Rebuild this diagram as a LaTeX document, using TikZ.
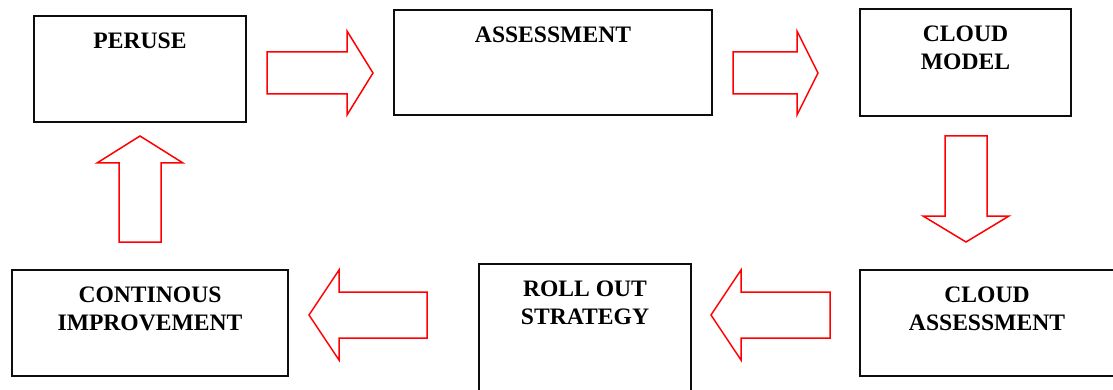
\documentclass[tikz,border=0pt]{standalone}
\usepackage{fontspec}
\setmainfont{Liberation Serif}
\usetikzlibrary{calc, positioning}
\definecolor{BoxBlack}{rgb}{0.05,0.05,0.05}
\definecolor{ArrowRed}{rgb}{1,0,0}

\begin{document}
\begin{tikzpicture}[x = 1pt, y = -1pt]%
    %
    \tikzstyle{box} = [rectangle, draw = BoxBlack, line width = 2pt, inner sep = 0pt]%
    \tikzstyle{boxtext} = [anchor = north, inner sep = 0pt, align = center, font = \fontsize{23.6}{28}\selectfont\bfseries]%
    \tikzstyle{blockarrow} = [draw = ArrowRed, line width = 1.5pt, fill = white, line join = miter]%
    %
    \def\blockarrow(#1)(#2)(#3:#4:#5){% Syntax: (tail)(tip)(shaft half width:head half width:head length)
        \coordinate (hb) at ($(#2)!#5!(#1)$);%
        \draw [blockarrow] ($(#1)!#3!90:(#2)$) -- ($(hb)!#3!90:(#2)$) -- ($(hb)!#4!90:(#2)$) -- (#2)%
            -- ($(hb)!#4!-90:(#2)$) -- ($(hb)!#3!-90:(#2)$) -- ($(#1)!#3!-90:(#2)$) -- cycle;%
    }%
    %
    \useasboundingbox (0, 0) rectangle (1113, 390);%
    %
    % boxes
    \node [box, minimum width = 212pt, minimum height = 106pt] (peruse) at (140, 69) {};%
    \node [box, minimum width = 318pt, minimum height = 105pt] (assess) at (553, 62.5) {};%
    \node [box, minimum width = 211pt, minimum height = 107pt] (cmodel) at (965.5, 62.5) {};%
    \node [box, minimum width = 254pt, minimum height = 106pt] (cassess) at (987, 323) {};%
    \node [box, minimum width = 212pt, minimum height = 150pt] (rollout) at (585, 339) {};%
    \node [box, minimum width = 276pt, minimum height = 106pt] (improve) at (150, 323) {};%
    %
    \node [boxtext] (perusetext) at ([yshift = -18pt] peruse.north) {PERUSE};%
    \node [boxtext] (assesstext) at ([yshift = -18pt] assess.north) {ASSESSMENT};%
    \node [boxtext] (cmodeltext) at ([yshift = -18pt] cmodel.north) {CLOUD\\MODEL};%
    \node [boxtext] (cassesstext) at ([yshift = -18pt] cassess.north) {CLOUD\\ASSESSMENT};%
    \node [boxtext] (rollouttext) at ([yshift = -18pt] rollout.north) {ROLL OUT\\STRATEGY};%
    \node [boxtext] (improvetext) at ([yshift = -18pt] improve.north) {CONTINOUS\\IMPROVEMENT};%
    %
    % arrows between the boxes
    \coordinate (peruse-out) at (267, 73);%
    \coordinate (assess-in) at (373, 73);%
    \coordinate (assess-out) at (733, 73);%
    \coordinate (cmodel-in) at (818, 73);%
    \coordinate (cmodel-out) at (966, 136);%
    \coordinate (cassess-in) at (966, 242);%
    \coordinate (cassess-out) at (830, 315);%
    \coordinate (rollout-in) at (711, 315);%
    \coordinate (rollout-out) at (427, 315);%
    \coordinate (improve-in) at (309, 315);%
    \coordinate (improve-out) at (140, 242);%
    \coordinate (peruse-in) at (140, 136);%
    %
    \blockarrow(peruse-out)(assess-in)(21pt:42pt:26pt);%
    \blockarrow(assess-out)(cmodel-in)(21pt:42pt:21pt);%
    \blockarrow(cmodel-out)(cassess-in)(21pt:43pt:26pt);%
    \blockarrow(cassess-out)(rollout-in)(23pt:45pt:30pt);%
    \blockarrow(rollout-out)(improve-in)(23pt:45pt:30pt);%
    \blockarrow(improve-out)(peruse-in)(21pt:43pt:27pt);%
\end{tikzpicture}
\end{document}
